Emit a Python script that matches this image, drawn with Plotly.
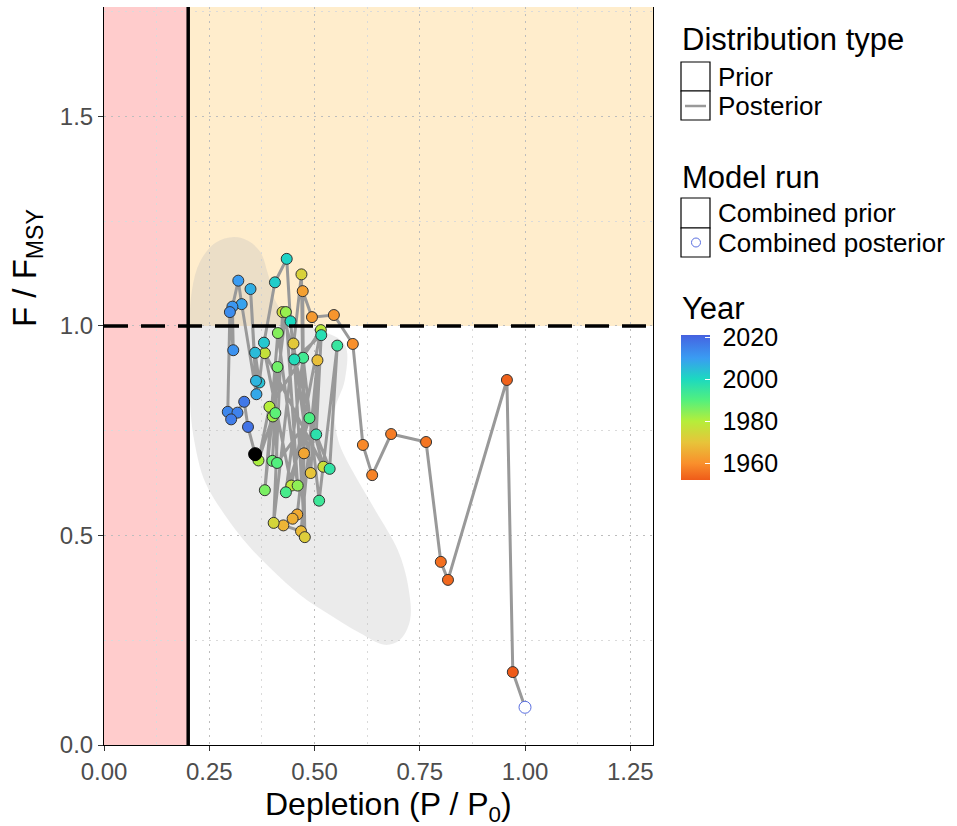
import plotly.graph_objects as go

# ---------------- data ----------------
start_depletion = [1.000]
start_f = [0.090]

years = list(range(1952, 2019))
depletion = [0.971, 0.957, 0.817, 0.800, 0.765, 0.682, 0.637, 0.615, 0.591, 0.546, 0.494,
             0.472, 0.475, 0.459, 0.448, 0.426, 0.468,
             0.507, 0.491, 0.450, 0.477, 0.469, 0.403, 0.424, 0.521, 0.382, 0.445, 0.515, 0.393, 0.367, 0.401,
             0.432, 0.460, 0.413, 0.382, 0.412, 0.400, 0.407,
             0.411, 0.488, 0.432, 0.473, 0.511, 0.554, 0.536, 0.504,
             0.516, 0.452, 0.443, 0.434, 0.406,
             0.380, 0.369, 0.359, 0.361, 0.348, 0.362, 0.327,
             0.319, 0.305, 0.307, 0.299, 0.294, 0.317, 0.302, 0.333, 0.342]
f_ratio = [0.174, 0.871, 0.394, 0.437, 0.723, 0.742, 0.644, 0.716, 0.957, 1.026, 1.021,
           1.083, 0.696, 0.550, 0.540, 0.524, 0.510,
           0.918, 0.649, 0.958, 0.496, 1.123, 0.530, 1.033, 0.664, 0.935, 0.619, 0.990, 0.807, 0.679, 0.784,
           1.033, 0.619, 0.983, 0.608, 0.902, 0.678, 0.792,
           0.673, 0.780, 0.603, 0.924, 0.583, 0.953, 0.659, 0.741,
           0.978, 0.920, 1.011, 1.160, 1.104,
           0.960, 0.865, 0.936, 0.869, 1.088, 0.837, 1.052,
           1.108, 1.046, 0.942, 1.033, 0.795, 0.793, 0.777, 0.819, 0.759]

final_depletion = [0.359]
final_f = [0.694]

# prior (joint density) region outline
prior_x = [0.309, 0.342, 0.371, 0.390, 0.406, 0.442, 0.513, 0.572, 0.572, 0.549, 0.556, 0.589,
           0.644, 0.698, 0.722, 0.727, 0.703, 0.667, 0.608, 0.537, 0.466, 0.399, 0.342, 0.287,
           0.240, 0.214, 0.204, 0.202, 0.209, 0.228, 0.264]
prior_y = [1.212, 1.203, 1.177, 1.122, 1.062, 1.014, 0.990, 0.955, 0.871, 0.800, 0.728, 0.656,
           0.561, 0.465, 0.382, 0.298, 0.251, 0.239, 0.267, 0.310, 0.358, 0.418, 0.477, 0.549,
           0.628, 0.728, 0.823, 0.967, 1.086, 1.153, 1.198]

b_limit = 0.2
f_limit = 1.0
x_ticks = [0.0, 0.25, 0.5, 0.75, 1.0, 1.25]
x_tick_text = ["0.00", "0.25", "0.50", "0.75", "1.00", "1.25"]
y_ticks = [0.0, 0.5, 1.0, 1.5]
y_tick_text = ["0.0", "0.5", "1.0", "1.5"]
year_ticks = [1960, 1980, 2000, 2020]
year_tick_text = [" 1960", " 1980", " 2000", " 2020"]

# ---------------- layout constants ----------------
W, H = 957, 826
L, R, T, B = 104, 653, 7, 745
X_MAX, Y_MAX = 1.304, 1.761
FONT = "Liberation Sans, Arial, sans-serif"


def px(xp):
    return (xp - L) / (R - L)


def py(yp):
    return (B - yp) / (B - T)


year_scale = [
    [0.0, "#EF5B19"],
    [0.116, "#F9902C"],
    [0.26, "#E7C43A"],
    [0.406, "#B5EE3A"],
    [0.551, "#52F07E"],
    [0.696, "#1CD9C0"],
    [0.841, "#3A9CF2"],
    [0.986, "#4468E3"],
    [1.0, "#4660DC"],
]

fig = go.Figure()

# prior region
fig.add_trace(go.Scatter(
    x=prior_x + prior_x[:1], y=prior_y + prior_y[:1], mode="lines", fill="toself",
    fillcolor="rgba(190,190,190,0.30)", line=dict(width=0, shape="spline", smoothing=1.0),
    hoverinfo="skip", showlegend=False))

path_x = start_depletion + depletion + final_depletion
path_y = start_f + f_ratio + final_f
fig.add_trace(go.Scatter(x=path_x, y=path_y, mode="lines",
                         line=dict(color="#999999", width=3), hoverinfo="skip", showlegend=False))

fig.add_trace(go.Scatter(
    x=depletion, y=f_ratio, mode="markers", showlegend=False,
    marker=dict(size=11, color=years, colorscale=year_scale, cmin=1952, cmax=2021,
                line=dict(color="#333333", width=1),
                colorbar=dict(x=px(681), xanchor="left", y=py(407.5), yanchor="middle",
                              len=145, lenmode="pixels", thickness=29, thicknessmode="pixels",
                              outlinewidth=0, xpad=0, ypad=0, tickvals=year_ticks,
                              ticktext=year_tick_text,
                              ticks="inside", tickcolor="white", ticklen=5,
                              tickfont=dict(size=25, color="black", family=FONT))),
    text=[str(y) for y in years], hovertemplate="%{text}<extra></extra>"))

fig.add_trace(go.Scatter(x=start_depletion, y=start_f, mode="markers", showlegend=False,
                         marker=dict(size=12, color="white", line=dict(color="#5A6FE0", width=1))))
fig.add_trace(go.Scatter(x=final_depletion, y=final_f, mode="markers", showlegend=False,
                         marker=dict(size=13, color="black", line=dict(color="black", width=1))))

shapes = [
    dict(type="rect", xref="x", yref="y", x0=0, x1=b_limit, y0=0, y1=Y_MAX,
         fillcolor="#FFCCCC", line=dict(width=0), layer="below"),
    dict(type="rect", xref="x", yref="y", x0=b_limit, x1=X_MAX, y0=f_limit, y1=Y_MAX,
         fillcolor="#FFEDCC", line=dict(width=0), layer="below"),
    dict(type="line", xref="x", yref="y", x0=b_limit, x1=b_limit, y0=0, y1=Y_MAX,
         line=dict(color="black", width=3.5)),
    dict(type="line", xref="x", yref="y", x0=0, x1=X_MAX, y0=f_limit, y1=f_limit,
         line=dict(color="black", width=3.5, dash="24px,13px")),
]

# legend keys (paper coords)
def box(x0, y0, x1, y1):
    return dict(type="rect", xref="paper", yref="paper", x0=px(x0), x1=px(x1), y0=py(y1), y1=py(y0),
                line=dict(color="black", width=1.2), fillcolor="white")

shapes += [box(681, 62, 710, 91), box(681, 91, 710, 120),
           box(681, 198, 710, 228), box(681, 228, 710, 257)]
shapes.append(dict(type="line", xref="paper", yref="paper", x0=px(685), x1=px(706),
                   y0=py(106), y1=py(106), line=dict(color="#999999", width=2.5)))
shapes.append(dict(type="circle", xref="paper", yref="paper", x0=px(691.5), x1=px(700.5),
                   y0=py(247), y1=py(238), line=dict(color="#5A6FE0", width=1)))

annotations = []

def label(text, x, y, size, color="black", angle=0, xanchor="left"):
    annotations.append(dict(text=text, xref="paper", yref="paper", x=px(x), y=py(y),
                            xanchor=xanchor, yanchor="middle", showarrow=False, textangle=angle,
                            font=dict(size=size, color=color, family=FONT)))

label("Distribution type", 680, 39, 31)
label("Prior", 716, 77, 26)
label("Posterior", 716, 106, 26)
label("Model run", 680, 177, 31)
label("Combined prior", 716, 213, 26)
label("Combined posterior", 716, 243, 26)
label("Year", 680, 308, 31)
label("Depletion (P / P<sub>0</sub>)", 388, 806, 32, xanchor="center")
label("F / F<sub>MSY</sub>", 27, 268, 33, angle=-90, xanchor="center")

grid_dash = "2px,5px"
fig.update_layout(
    width=W, height=H, margin=dict(l=L, r=W - R, t=T, b=H - B),
    paper_bgcolor="white", plot_bgcolor="white",
    shapes=shapes, annotations=annotations,
    xaxis=dict(range=[0, X_MAX], tickvals=x_ticks, ticktext=x_tick_text,
               showgrid=True, gridcolor="#BDBDBD", griddash=grid_dash, gridwidth=1.2,
               minor=dict(dtick=0.125, tick0=0, showgrid=True, gridcolor="#DADADA", griddash=grid_dash),
               showline=True, linecolor="black", linewidth=1, mirror=False,
               ticks="outside", ticklen=5, tickcolor="#333333",
               tickfont=dict(size=24, color="#4D4D4D", family=FONT), zeroline=False),
    yaxis=dict(range=[0, Y_MAX], tickvals=y_ticks, ticktext=y_tick_text,
               showgrid=True, gridcolor="#BDBDBD", griddash=grid_dash, gridwidth=1.2,
               minor=dict(dtick=0.25, tick0=0, showgrid=True, gridcolor="#DADADA", griddash=grid_dash),
               showline=True, linecolor="black", linewidth=1, mirror=True,
               ticks="outside", ticklen=5, tickcolor="#333333",
               tickfont=dict(size=24, color="#4D4D4D", family=FONT), zeroline=False),
)

fig.write_html("out.html")
